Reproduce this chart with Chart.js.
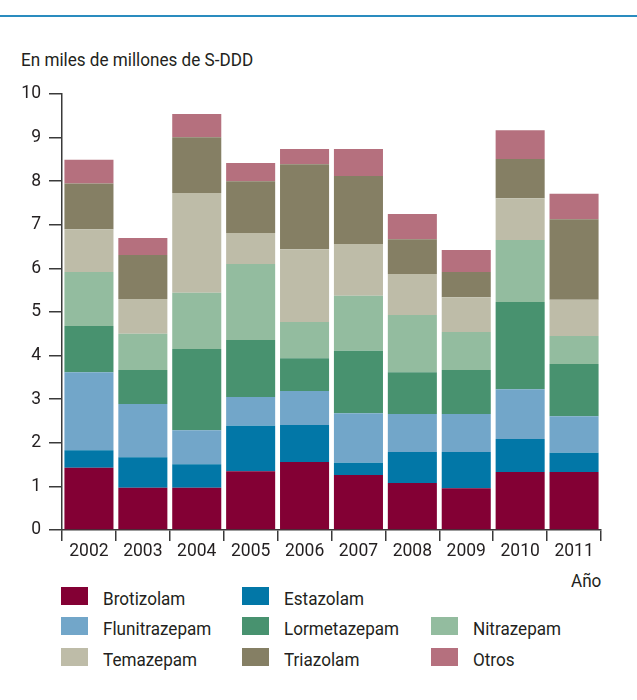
<!DOCTYPE html>
<html>
<head>
<meta charset="utf-8">
<script src="https://cdn.jsdelivr.net/npm/chart.js@4.4.0/dist/chart.umd.min.js"></script>
<style>
  body { margin: 0; background: #fff; font-family: Roboto, sans-serif; color: #231f20; }
  #page { position: relative; width: 637px; height: 700px; overflow: hidden; }
  #topline { position: absolute; left: 0; top: 15px; width: 637px; height: 2px; background: #2a8cbf; }
  .txt { position: absolute; font-size: 18px; line-height: 18px; white-space: nowrap; transform-origin: 0 0; transform: scaleX(0.95); }
  #unit { left: 21px; top: 51px; }
  #xtitle { left: 571px; top: 572px; }
  #wrap { position: absolute; left: 0; top: 0; width: 637px; height: 570px; }
  .leg { position: absolute; }
  .leg span { position: absolute; left: 0; top: 0; width: 27px; height: 18px; }
  .leg b { font-weight: normal; left: 42px; top: 3px; }
</style>
</head>
<body>
<div id="page">
  <div id="topline"></div>
  <div id="unit" class="txt">En miles de millones de S-DDD</div>
  <div id="wrap"><canvas id="chart" width="637" height="570"></canvas></div>
  <div id="xtitle" class="txt">Año</div>
  <div id="legend"></div>
</div>
<script>
const years = ['2002', '2003', '2004', '2005', '2006', '2007', '2008', '2009', '2010', '2011'];
const yTicks = [0, 1, 2, 3, 4, 5, 6, 7, 8, 9, 10];

const brotizolam    = [1.43, 0.97, 0.97, 1.35, 1.56, 1.26, 1.08, 0.96, 1.33, 1.33];
const estazolam     = [0.40, 0.70, 0.54, 1.04, 0.85, 0.28, 0.71, 0.83, 0.76, 0.44];
const flunitrazepam = [1.79, 1.22, 0.78, 0.66, 0.78, 1.14, 0.87, 0.87, 1.14, 0.84];
const lormetazepam  = [1.06, 0.78, 1.86, 1.31, 0.75, 1.43, 0.96, 1.01, 2.00, 1.20];
const nitrazepam    = [1.24, 0.83, 1.29, 1.74, 0.83, 1.26, 1.31, 0.87, 1.42, 0.64];
const temazepam     = [0.98, 0.80, 2.29, 0.71, 1.67, 1.19, 0.94, 0.80, 0.96, 0.83];
const triazolam     = [1.05, 1.01, 1.28, 1.19, 1.95, 1.56, 0.80, 0.58, 0.90, 1.85];
const otros         = [0.54, 0.39, 0.53, 0.42, 0.35, 0.62, 0.58, 0.50, 0.66, 0.58];

const series = [
  { label: 'Brotizolam',    data: brotizolam,    color: '#830034', col: 0, row: 0 },
  { label: 'Estazolam',     data: estazolam,     color: '#0277a7', col: 1, row: 0 },
  { label: 'Flunitrazepam', data: flunitrazepam, color: '#72a6c9', col: 0, row: 1 },
  { label: 'Lormetazepam',  data: lormetazepam,  color: '#48926f', col: 1, row: 1 },
  { label: 'Nitrazepam',    data: nitrazepam,    color: '#93bc9f', col: 2, row: 1 },
  { label: 'Temazepam',     data: temazepam,     color: '#bebca8', col: 0, row: 2 },
  { label: 'Triazolam',     data: triazolam,     color: '#857f64', col: 1, row: 2 },
  { label: 'Otros',         data: otros,         color: '#b5707e', col: 2, row: 2 }
];

// legend, laid out like the original (3 columns, first row has 2 items)
const legCols = [61, 242, 431];
const legRows = [587, 617, 648];
const legend = document.getElementById('legend');
series.forEach(s => {
  const d = document.createElement('div');
  d.className = 'leg';
  d.style.left = legCols[s.col] + 'px';
  d.style.top = legRows[s.row] + 'px';
  d.innerHTML = `<span style="background:${s.color}"></span><b class="txt">${s.label}</b>`;
  legend.appendChild(d);
});

const font = { family: 'Roboto, sans-serif', size: 17.5 };
const axisColor = '#3a3a3a';

new Chart(document.getElementById('chart'), {
  type: 'bar',
  data: {
    labels: years,
    datasets: series.map(s => ({
      label: s.label,
      data: s.data,
      backgroundColor: s.color,
      borderWidth: 0,
      categoryPercentage: 0.91,
      barPercentage: 1
    }))
  },
  options: {
    responsive: false,
    animation: false,
    devicePixelRatio: 1,
    layout: { padding: { top: 94, right: 36, left: 0, bottom: 0 } },
    plugins: { legend: { display: false }, tooltip: { enabled: false } },
    scales: {
      x: {
        stacked: true,
        offset: true,
        border: { color: axisColor, width: 1.5 },
        grid: { offset: true, drawOnChartArea: false, drawTicks: true, tickLength: 11, color: axisColor, lineWidth: 1.5 },
        ticks: { color: '#231f20', font: font, padding: 0, maxRotation: 0, autoSkip: false },
        afterFit: scale => { scale.height = 40; }
      },
      y: {
        stacked: true,
        min: 0,
        max: 10,
        afterBuildTicks: scale => { scale.ticks = yTicks.map(v => ({ value: v })); },
        border: { color: axisColor, width: 1.5 },
        grid: { drawOnChartArea: false, drawTicks: true, tickLength: 13, color: axisColor, lineWidth: 1.5 },
        ticks: { color: '#231f20', font: font, padding: 8 },
        afterFit: scale => { scale.width = 62; }
      }
    }
  }
});
</script>
</body>
</html>
